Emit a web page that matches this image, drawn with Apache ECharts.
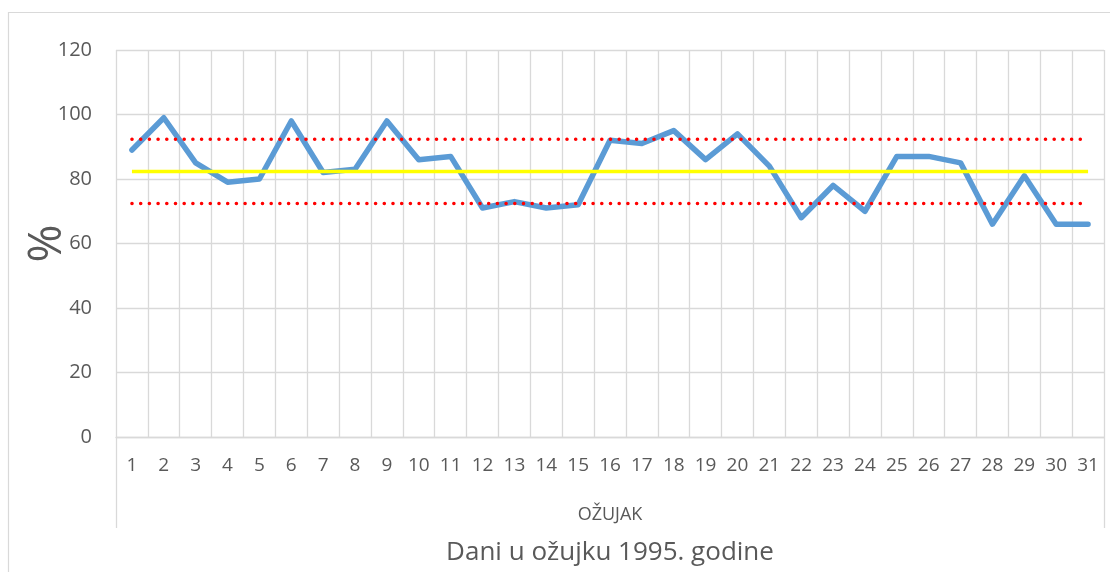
<!DOCTYPE html>
<html>
<head>
<meta charset="utf-8">
<script src="https://cdn.jsdelivr.net/npm/echarts@6/dist/echarts.min.js"></script>
<style>html,body{margin:0;padding:0;background:#fff}#c{width:1110px;height:572px}</style>
</head>
<body>
<div id="c"></div>
<script>
const days = ['1','2','3','4','5','6','7','8','9','10','11','12','13','14','15','16','17','18','19','20','21','22','23','24','25','26','27','28','29','30','31'];
const groupLabels = ['OŽUJAK'];
const values = [89,99,85,79,80,98,82,83,98,86,87,71,73,71,72,92,91,95,86,94,84,68,78,70,87,87,85,66,81,66,66];
const meanLine = [82.3,82.3,82.3,82.3,82.3,82.3,82.3,82.3,82.3,82.3,82.3,82.3,82.3,82.3,82.3,82.3,82.3,82.3,82.3,82.3,82.3,82.3,82.3,82.3,82.3,82.3,82.3,82.3,82.3,82.3,82.3];
const upperLine = [92.3,92.3,92.3,92.3,92.3,92.3,92.3,92.3,92.3,92.3,92.3,92.3,92.3,92.3,92.3,92.3,92.3,92.3,92.3,92.3,92.3,92.3,92.3,92.3,92.3,92.3,92.3,92.3,92.3,92.3,92.3];
const lowerLine = [72.4,72.4,72.4,72.4,72.4,72.4,72.4,72.4,72.4,72.4,72.4,72.4,72.4,72.4,72.4,72.4,72.4,72.4,72.4,72.4,72.4,72.4,72.4,72.4,72.4,72.4,72.4,72.4,72.4,72.4,72.4];
const yTicks = {min: 0, max: 120, interval: 20};

const font = '"Open Sans", "Noto Sans", sans-serif';
const grey = '#D9D9D9';
const txt = '#595959';
const chart = echarts.init(document.getElementById('c'), null, {renderer: 'canvas'});
chart.setOption({
  animation: false,
  backgroundColor: '#fff',
  textStyle: {fontFamily: font},
  graphic: [{type: 'rect', shape: {x: 8.5, y: 12.5, width: 1200, height: 700}, style: {fill: 'none', stroke: grey, lineWidth: 1.2}, silent: true, z: -1}],
  grid: {left: 116, right: 6, top: 50, bottom: 135, containLabel: false, outerBoundsMode: 'none'},
  xAxis: [{
    type: 'category', data: days, boundaryGap: true,
    axisLine: {show: true, lineStyle: {color: grey, width: 1.3}},
    axisTick: {show: false},
    axisLabel: {color: txt, fontSize: 19, margin: 19, interval: 0, fontFamily: font},
    splitLine: {show: true, interval: 0, lineStyle: {color: grey, width: 1.3}},
    name: 'Dani u ožujku 1995. godine', nameLocation: 'middle', nameGap: 103, nameMoveOverlap: false,
    nameTextStyle: {color: txt, fontSize: 26, fontFamily: font}
  }, {
    type: 'category', data: groupLabels, position: 'bottom', boundaryGap: true,
    axisLine: {show: false},
    axisTick: {show: true, length: 91, lineStyle: {color: grey, width: 1.3}},
    axisLabel: {color: txt, fontSize: 18, margin: 69, fontFamily: font},
    splitLine: {show: false}
  }],
  yAxis: {
    type: 'value', min: yTicks.min, max: yTicks.max, interval: yTicks.interval,
    axisLine: {show: false}, axisTick: {show: false},
    axisLabel: {color: txt, fontSize: 20, margin: 24, fontFamily: font},
    splitLine: {lineStyle: {color: grey, width: 1.3}},
    name: '%', nameLocation: 'middle', nameGap: 45, nameMoveOverlap: false,
    nameTextStyle: {color: txt, fontSize: 46, fontFamily: font}
  },
  series: [{
    type: 'line', data: values, xAxisIndex: 0, symbol: 'none',
    lineStyle: {color: '#5B9BD5', width: 5.5, join: 'round', cap: 'round'}, z: 3
  }, {
    type: 'line', data: meanLine, xAxisIndex: 0, symbol: 'none',
    lineStyle: {color: '#FFFF00', width: 3.5}, z: 4
  }, {
    type: 'line', data: upperLine, xAxisIndex: 0, symbol: 'none',
    lineStyle: {color: '#FF0000', width: 3.5, type: [0.1, 8.6], cap: 'round'}, z: 4
  }, {
    type: 'line', data: lowerLine, xAxisIndex: 0, symbol: 'none',
    lineStyle: {color: '#FF0000', width: 3.5, type: [0.1, 8.6], cap: 'round'}, z: 4
  }]
});
</script>
</body>
</html>
